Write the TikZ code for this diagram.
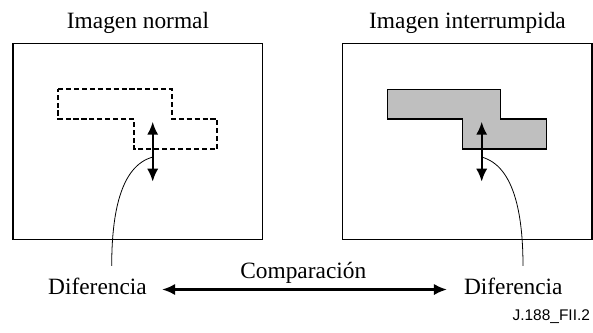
\documentclass[tikz,border=0pt]{standalone}
\usepackage{fontspec}
\setmainfont{Liberation Serif}
\newfontfamily\figidfont{Liberation Sans}
\usepackage{tikz}
\usetikzlibrary{arrows.meta,calc,positioning}
\tikzset{
  lbl/.style={font=\fontsize{13.3pt}{16pt}\selectfont, anchor=base},
  frame/.style={line width=0.7pt},
  region/.style={line width=1pt, dash pattern=on 2.9pt off 1.6pt},
  regionfill/.style={line width=0.7pt, fill=black!25},
  dbl/.style={line width=1.25pt, {Latex[length=7.4pt,width=6.4pt]}-{Latex[length=7.4pt,width=6.4pt]}},
  lead/.style={line width=0.45pt}
}
\begin{document}
\begin{tikzpicture}[x=0.02cm, y=-0.02cm]
				\useasboundingbox (0,0) rectangle (593,333);
				\node[lbl] (titleN) at (138,28.3) {Imagen normal};
				\node[lbl] (titleI) at (467.5,28.3) {Imagen interrumpida};
				\draw[frame] (13,43.3) rectangle (262.7,239.5);
				\draw[frame] (342.3,43.3) rectangle (592,239.5);
				\draw[region] (58.3,89.3) -- (172,89.3) -- (172,119) -- (217.3,119) -- (217.3,149) -- (134,149) -- (134,119) -- (58.3,119) -- cycle;
				\draw[regionfill] (387.3,89.3) -- (500.7,89.3) -- (500.7,119) -- (546.7,119) -- (546.7,149) -- (462.7,149) -- (462.7,119) -- (387.3,119) -- cycle;
				\coordinate (upN) at (152.7,121.7);
				\coordinate (downN) at (152.7,181.7);
				\coordinate (upI) at (481.7,121.7);
				\coordinate (downI) at (481.7,181.7);
				\draw[dbl] (upN) -- (downN);
				\draw[dbl] (upI) -- (downI);
				\node[lbl, inner xsep=8.5pt] (difN) at (97.5,295) {Diferencia};
				\node[lbl, inner xsep=9.5pt] (difI) at (513.3,295) {Diferencia};
				\coordinate (endN) at (111.7,266);
				\coordinate (endI) at (523,266);
				\draw[lead] ($(upN)!0.59!(downN)$) .. controls (120,166) and (111.7,215) .. (endN);
				\draw[lead] ($(upI)!0.59!(downI)$) .. controls (514.4,166) and (523,215) .. (endI);
				\node[lbl] (comp) at (303.3,278.7) {Comparación};
				\draw[dbl] ([yshift=-1.5pt]difN.east) -- ([yshift=-1.5pt]difI.west);
				\node[anchor=base east, inner sep=0pt, font=\figidfont\fontsize{8.8pt}{10pt}\selectfont] (figid) at (590.3,320.3) {J.188\_FII.2};
\end{tikzpicture}
\end{document}
